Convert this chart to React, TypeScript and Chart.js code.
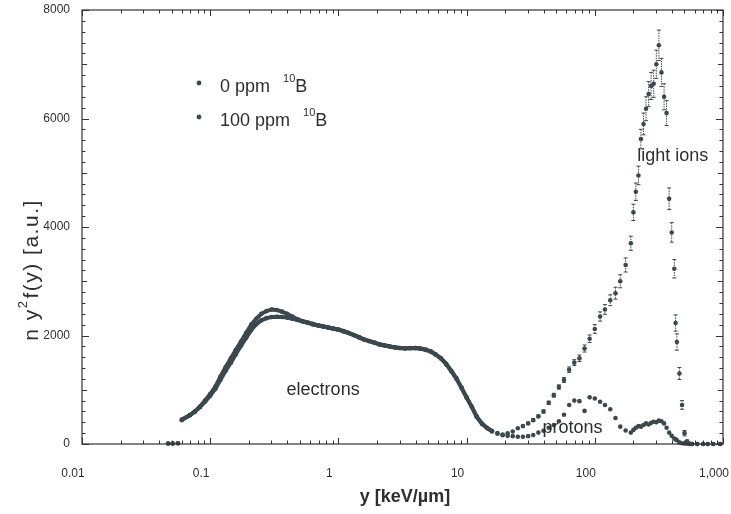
import { useEffect, useRef } from 'react';
import { Chart, registerables } from 'chart.js';

Chart.register(...registerables);

// Lineal energy bins y [keV/µm]
const lineal = [
  0.047, 0.051, 0.056, 0.06,
  0.0692, 0.0759, 0.0832, 0.0912, 0.1,
  0.11, 0.12, 0.132, 0.145, 0.158, 0.174, 0.191,
  0.209, 0.229, 0.251, 0.275, 0.302, 0.331, 0.363, 0.398,
  0.437, 0.479, 0.525, 0.575, 0.631, 0.692, 0.759, 0.832, 0.912, 1,
  1.1, 1.2, 1.32, 1.45, 1.58, 1.74, 1.91, 2.09, 2.29, 2.51,
  2.75, 3.02, 3.31, 3.63, 3.98, 4.37, 4.79, 5.25, 5.75, 6.31, 6.92, 7.59, 8.32, 9.12, 10,
  11, 12, 13.2, 14.5, 15.8, 17.4, 19.1, 20.9, 22.9, 25.1,
  27.5, 30.2, 33.1, 36.3, 39.8, 43.7, 47.9, 52.5, 57.5, 63.1, 69.2, 75.9, 83.2, 91.2, 100,
  110, 120, 132, 145, 158, 174,
  191, 200, 209, 219, 229, 240, 251, 263, 275, 288, 302, 316, 331, 347, 363, 380, 398, 417, 427, 437, 457, 479, 501, 525, 550, 575,
  630, 700, 760, 840, 950,
];

// n y²f(y), 0 ppm 10B
const dose0ppm = [
  10, 10, 15, 440,
  530, 600, 690, 800, 920,
  1060, 1240, 1420, 1580, 1730, 1890, 2050,
  2200, 2310, 2400, 2450, 2480, 2470, 2440, 2400,
  2350, 2300, 2265, 2240, 2215, 2190, 2170, 2150, 2130, 2110,
  2080, 2050, 2010, 1970, 1930, 1900, 1870, 1840, 1820, 1800,
  1785, 1770, 1765, 1770, 1770, 1760, 1740, 1710, 1650, 1580, 1480, 1350, 1210, 1040, 860,
  680, 500, 370, 290, 230, 190, 160, 150, 145, 135,
  135, 145, 165, 210, 245, 300, 350, 420, 540, 720, 800, 790, 610, 860, 840,
  780, 720, 640, 480, 320, 250,
  210, 260, 300, 330, 320, 350, 380, 360, 390, 410, 400, 430, 420, 380, 300, 210, 150, 100, 85, 70, 30, 15, 10, 5, 0, 0,
  0, 0, 0, 0, 0,
];

// n y²f(y), 100 ppm 10B
const dose100ppm = [
  10, 10, 15, 450,
  530, 595, 680, 780, 890,
  1020, 1180, 1350, 1500, 1650, 1810, 1960,
  2100, 2210, 2280, 2320, 2340, 2345, 2340, 2330,
  2310, 2285, 2260, 2235, 2205, 2185, 2165, 2145, 2125, 2105,
  2075, 2045, 2005, 1965, 1925, 1895, 1865, 1835, 1815, 1795,
  1780, 1768, 1760, 1765, 1768, 1755, 1735, 1705, 1645, 1575, 1475, 1345, 1205, 1035, 855,
  680, 505, 375, 295, 240, 200, 175, 195, 230, 290,
  330, 380, 440, 510, 600, 760, 900, 1050, 1180, 1370, 1500, 1580, 1760, 1940, 2120,
  2350, 2480, 2650, 2780, 3000, 3300,
  3700, 4270, 4650, 4950, 5620, 5900, 6180, 6450, 6600, 6640, 7000, 7350, 6850, 6400, 6100, 4520, 3900, 3230, 2230, 1880, 1300, 720, 200, 50, 10, 0,
  0, 0, 0, 0, 0,
];

// Statistical uncertainty of the 100 ppm spectrum
const err100ppm = [
  0, 0, 0, 0,
  0, 0, 0, 0, 0,
  0, 0, 0, 0, 0, 0, 0,
  0, 0, 0, 0, 0, 0, 0, 0,
  0, 0, 0, 0, 0, 0, 0, 0, 0, 0,
  0, 0, 0, 0, 0, 0, 0, 0, 0, 0,
  0, 0, 0, 0, 0, 0, 0, 0, 0, 0, 0, 0, 0, 0, 0,
  0, 0, 0, 0, 0, 0, 0, 0, 0, 0,
  20, 20, 25, 25, 30, 30, 35, 40, 45, 50, 55, 60, 65, 70, 80,
  85, 90, 100, 110, 120, 130,
  130, 150, 160, 170, 180, 200, 220, 230, 250, 250, 260, 280, 260, 240, 230, 200, 180, 170, 150, 150, 110, 80, 50, 20, 0, 0,
  0, 0, 0, 0, 0,
];

const seriesNames = ['0 ppm', '100 ppm'];
const decadeLabels = ['0.01', '0.1', '1', '10', '100', '1,000'];
const yMax = 8000;
const yLabelStep = 2000;

const regionLabels = [
  { text: 'electrons', x: 0.76, y: 990 },
  { text: 'protons', x: 67, y: 300 },
  { text: 'light ions', x: 405, y: 5300 },
];

const FONT = "'Liberation Sans', Arial, Helvetica, sans-serif";
const INK = '#2e2e2e';
const MARK = '#3b494e';

function decadeLabel(v: number): string {
  const l = Math.log10(v);
  const r = Math.round(l);
  if (Math.abs(l - r) > 1e-6) return '';
  return decadeLabels[r + 2] ?? '';
}

const frameAndText = {
  id: 'frameAndText',
  beforeDatasetsDraw(chart: any) {
    // vertical error bars
    const { ctx, scales } = chart;
    const xs = scales.x;
    const ys = scales.y;
    ctx.save();
    ctx.strokeStyle = MARK;
    ctx.lineWidth = 1;
    chart.data.datasets.forEach((ds: any) => {
      ds.data.forEach((pt: any) => {
        if (!pt.e) return;
        const px = xs.getPixelForValue(pt.x);
        const top = ys.getPixelForValue(pt.y + pt.e);
        const bot = ys.getPixelForValue(Math.max(0, pt.y - pt.e));
        ctx.setLineDash([1.5, 1]);
        ctx.beginPath();
        ctx.moveTo(px, top);
        ctx.lineTo(px, bot);
        ctx.stroke();
        ctx.setLineDash([]);
        ctx.beginPath();
        ctx.moveTo(px - 2, top);
        ctx.lineTo(px + 2, top);
        ctx.moveTo(px - 2, bot);
        ctx.lineTo(px + 2, bot);
        ctx.stroke();
      });
    });
    ctx.restore();
  },
  afterDraw(chart: any) {
    const { ctx, chartArea: a, scales } = chart;
    const xs = scales.x;
    const ys = scales.y;
    ctx.save();

    // frame
    ctx.strokeStyle = '#333';
    ctx.lineWidth = 1.2;
    ctx.strokeRect(a.left, a.top, a.right - a.left, a.bottom - a.top);

    // x tick marks (bottom and top, pointing inward)
    ctx.lineWidth = 1;
    ctx.beginPath();
    for (let d = -2; d <= 3; d++) {
      for (let m = 1; m <= 9; m++) {
        if (d === 3 && m > 1) break;
        const v = m * Math.pow(10, d);
        const px = Math.round(xs.getPixelForValue(v)) + 0.5;
        const len = m === 1 ? 6 : 3.5;
        ctx.moveTo(px, a.bottom);
        ctx.lineTo(px, a.bottom - len);
        ctx.moveTo(px, a.top);
        ctx.lineTo(px, a.top + len);
      }
    }
    // y tick marks (left and right, pointing inward)
    for (let v = 0; v <= yMax; v += 200) {
      const py = Math.round(ys.getPixelForValue(v)) + 0.5;
      const len = v % yLabelStep === 0 ? 7 : v % 1000 === 0 ? 5 : 3.5;
      ctx.moveTo(a.left, py);
      ctx.lineTo(a.left + len, py);
      ctx.moveTo(a.right, py);
      ctx.lineTo(a.right - len, py);
    }
    ctx.stroke();

    ctx.fillStyle = INK;

    // x axis title
    ctx.font = `bold 18px ${FONT}`;
    ctx.textAlign = 'center';
    ctx.textBaseline = 'middle';
    ctx.fillText('y [keV/µm]', 405, 497);

    // y axis title with superscript
    ctx.save();
    ctx.translate(31, 270);
    ctx.rotate(-Math.PI / 2);
    ctx.textAlign = 'left';
    ctx.textBaseline = 'alphabetic';
    (ctx as any).letterSpacing = '1.5px';
    const main = `21px ${FONT}`;
    const sup = `13px ${FONT}`;
    ctx.font = main;
    const p1 = 'n y';
    const p2 = 'f(y) [a.u.]';
    const w1 = ctx.measureText(p1).width;
    const w3 = ctx.measureText(p2).width;
    ctx.font = sup;
    const w2 = ctx.measureText('2').width + 1;
    let cx = -(w1 + w2 + w3) / 2;
    ctx.font = main;
    ctx.fillText(p1, cx, 7);
    cx += w1;
    ctx.font = sup;
    ctx.fillText('2', cx, -4);
    cx += w2;
    ctx.font = main;
    ctx.fillText(p2, cx, 7);
    ctx.restore();

    // legend
    const legendRows = [
      { dotY: 83, textY: 87 },
      { dotY: 117, textY: 121 },
    ];
    chart.data.datasets.forEach((ds: any, i: number) => {
      const row = legendRows[i];
      ctx.fillStyle = ds.pointBackgroundColor;
      ctx.beginPath();
      ctx.arc(199, row.dotY, 2.4, 0, Math.PI * 2);
      ctx.fill();
      ctx.fillStyle = INK;
      ctx.textAlign = 'left';
      ctx.textBaseline = 'middle';
      ctx.font = `18px ${FONT}`;
      const name = seriesNames[i];
      ctx.fillText(name, 220, row.textY);
      let tx = 220 + ctx.measureText(name).width + 13;
      ctx.font = `11px ${FONT}`;
      ctx.fillText('10', tx, row.textY - 8);
      tx += ctx.measureText('10').width;
      ctx.font = `18px ${FONT}`;
      ctx.fillText('B', tx, row.textY);
    });

    // region annotations
    ctx.font = `18px ${FONT}`;
    ctx.textAlign = 'center';
    ctx.textBaseline = 'middle';
    regionLabels.forEach((r) => {
      ctx.fillText(r.text, xs.getPixelForValue(r.x), ys.getPixelForValue(r.y));
    });

    ctx.restore();
  },
};

export default function App() {
  const canvasRef = useRef<HTMLCanvasElement | null>(null);

  useEffect(() => {
    const canvas = canvasRef.current;
    if (!canvas) return;

    const series = [dose0ppm, dose100ppm];
    const errors = [null, err100ppm];

    const chart = new Chart(canvas, {
      type: 'scatter',
      data: {
        datasets: series.map((vals, si) => ({
          label: seriesNames[si],
          data: lineal.map((x, i) => ({ x, y: vals[i], e: errors[si] ? errors[si]![i] : 0 })),
          showLine: true,
          borderWidth: 4,
          borderColor: MARK,
          segment: {
            borderColor: (c: any) =>
              c.p0.parsed.x > 0.058 && c.p1.parsed.x < 16 ? MARK : 'rgba(0,0,0,0)',
          },
          pointRadius: 2.3,
          pointBorderWidth: 0,
          pointBackgroundColor: MARK,
          clip: false,
        })),
      },
      options: {
        animation: false,
        responsive: false,
        events: [],
        layout: { padding: { left: 0, right: 8, top: 10, bottom: 0 } },
        plugins: {
          legend: { display: false },
          tooltip: { enabled: false },
        },
        scales: {
          x: {
            type: 'logarithmic',
            min: 0.01,
            max: 1000,
            afterFit: (s: any) => {
              s.height = 70;
              s.paddingLeft = 0;
              s.paddingRight = 0;
            },
            grid: { display: false, drawTicks: false },
            border: { display: false },
            ticks: {
              autoSkip: false,
              maxRotation: 0,
              padding: 22,
              labelOffset: -9,
              color: INK,
              font: { family: FONT, size: 12 },
              callback: (v: any) => decadeLabel(Number(v)),
            },
          },
          y: {
            min: 0,
            max: yMax,
            afterFit: (s: any) => {
              s.width = 82;
              s.paddingTop = 0;
              s.paddingBottom = 0;
            },
            grid: { display: false, drawTicks: false },
            border: { display: false },
            ticks: {
              stepSize: yLabelStep,
              padding: 12,
              color: INK,
              font: { family: FONT, size: 12 },
              callback: (v: any) => String(v),
            },
          },
        },
      } as any,
      plugins: [frameAndText],
    });

    return () => chart.destroy();
  }, []);

  return (
    <div style={{ position: 'fixed', left: 0, top: 0, width: 731, height: 514, background: '#fff' }}>
      <canvas ref={canvasRef} width={731} height={514} />
    </div>
  );
}
